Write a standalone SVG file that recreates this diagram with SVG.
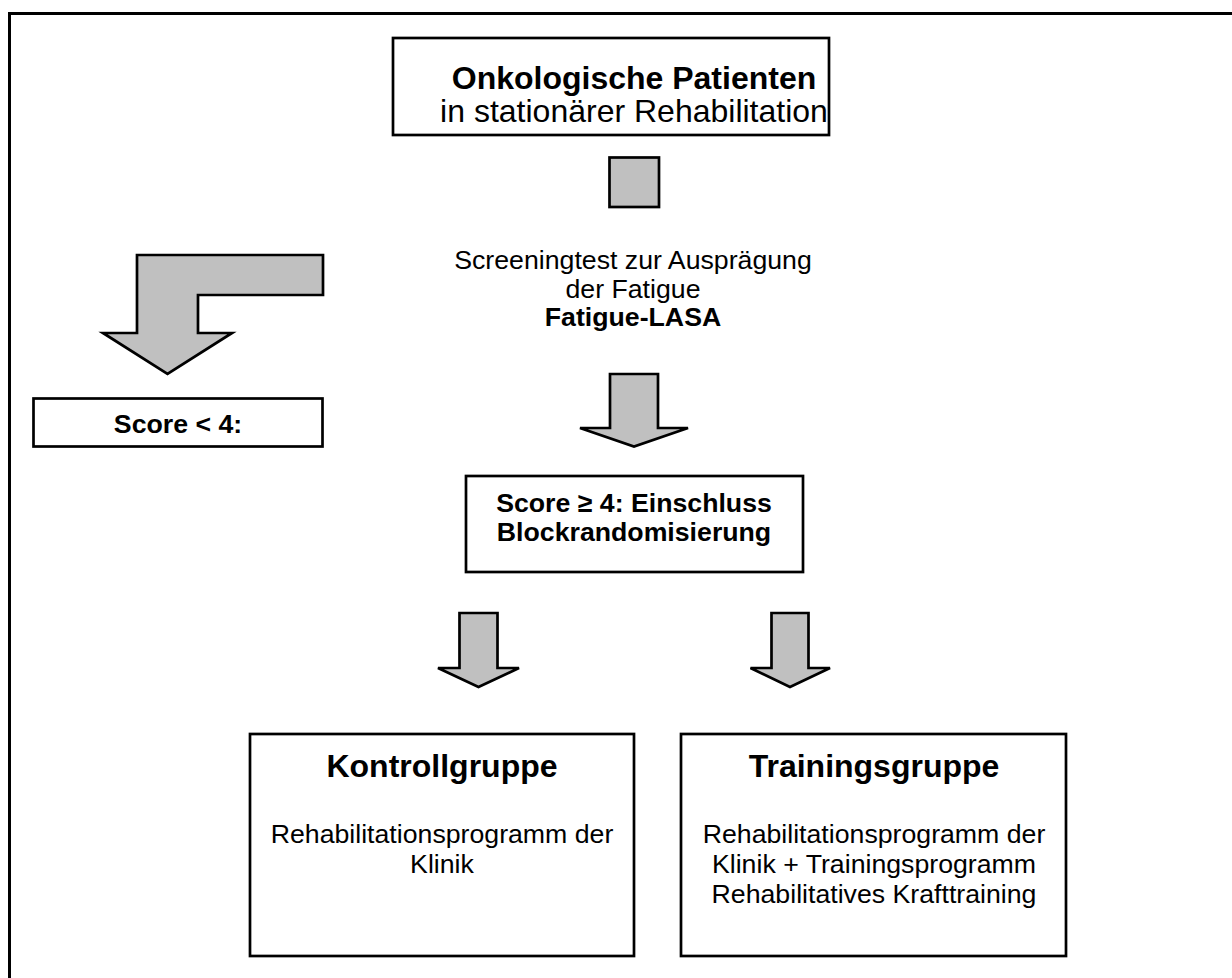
<svg xmlns="http://www.w3.org/2000/svg" width="1232" height="978" viewBox="0 0 1232 978">
  <style>
    .box { fill: #ffffff; stroke: #000000; stroke-width: 2.7; }
    .arrow { fill: #c0c0c0; stroke: #000000; stroke-width: 2.7; stroke-linejoin: miter; }
    .frame { fill: none; stroke: #000000; stroke-width: 3; }
    text { font-family: "Liberation Sans", Arial, sans-serif; fill: #000000; text-anchor: middle; }
    .b { font-weight: bold; }
    .t32 { font-size: 32px; }
    .t27 { font-size: 26.7px; }
  </style>

  <!-- page frame (only top and left edges fall inside the canvas) -->
  <path class="frame" d="M 9.5 990 V 13.5 H 1245"/>

  <g id="patients">
    <rect class="box" x="393" y="38" width="436" height="97"/>
    <text class="t32 b" x="634" y="89">Onkologische Patienten</text>
    <text class="t32" x="634" y="122">in stationärer Rehabilitation</text>
  </g>

  <g id="screening">
    <text class="t27" x="633" y="269">Screeningtest zur Ausprägung</text>
    <text class="t27" x="633" y="297.5">der Fatigue</text>
    <text class="t27 b" x="633" y="326">Fatigue-LASA</text>
  </g>

  <g id="score-low">
    <rect class="box" x="33.5" y="398.5" width="289" height="48"/>
    <text class="t27 b" x="178" y="433">Score &lt; 4:</text>
  </g>

  <g id="score-high">
    <rect class="box" x="466" y="476" width="337" height="96"/>
    <text class="t27 b" x="634" y="512">Score ≥ 4: Einschluss</text>
    <text class="t27 b" x="634" y="541">Blockrandomisierung</text>
  </g>

  <g id="control-group">
    <rect class="box" x="250" y="734" width="384" height="222"/>
    <text class="t32 b" x="442" y="777">Kontrollgruppe</text>
    <text class="t27" x="442" y="843">Rehabilitationsprogramm der</text>
    <text class="t27" x="442" y="873">Klinik</text>
  </g>

  <g id="training-group">
    <rect class="box" x="681" y="734" width="385" height="222"/>
    <text class="t32 b" x="874" y="777">Trainingsgruppe</text>
    <text class="t27" x="874" y="843">Rehabilitationsprogramm der</text>
    <text class="t27" x="874" y="873">Klinik + Trainingsprogramm</text>
    <text class="t27" x="874" y="903">Rehabilitatives Krafttraining</text>
  </g>

  <g id="connectors">
    <!-- block marker under the patient box -->
    <rect class="arrow" x="609.5" y="157.5" width="49.5" height="49.5"/>
    <!-- bent arrow to the excluded branch -->
    <polygon class="arrow" points="137,255 323,255 323,295 198,295 198,333 232,333 167.5,374 103,333 137,333"/>
    <!-- screening to inclusion -->
    <polygon class="arrow" points="610,374 658,374 658,428 688,428 634,446.5 580,428 610,428"/>
    <!-- randomisation to the two groups -->
    <polygon class="arrow" points="459.5,613 497.5,613 497.5,668 519,668 478.5,687 438,668 459.5,668"/>
    <polygon class="arrow" points="771.5,613 808.5,613 808.5,668 830,668 790,687 750.5,668 771.5,668"/>
  </g>
</svg>
